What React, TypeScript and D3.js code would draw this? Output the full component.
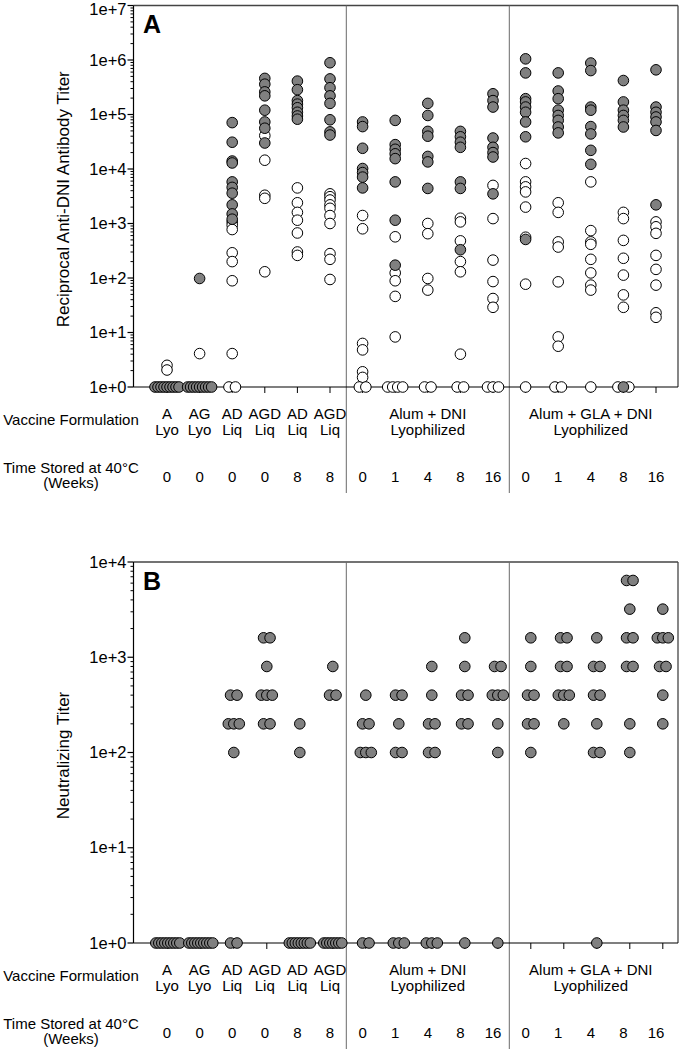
import React from "react";
import * as d3 from "d3";

// ---------------- Data ----------------
const formulationTop = ["A", "AG", "AD", "AGD", "AD", "AGD"];
const formulationBottom = ["Lyo", "Lyo", "Liq", "Liq", "Liq", "Liq"];
const lyoSets = ["Alum + DNI", "Alum + GLA + DNI"];
const lyoSetCenters = [8, 13];
const lyoSub = "Lyophilized";
const weeksStored = ["0", "0", "0", "0", "8", "8", "0", "1", "4", "8", "16", "0", "1", "4", "8", "16"];
const dividerPositions = [5.5, 10.5];

// Panel A: reciprocal anti-DNI antibody titer (filled = grey, open = white)
const antibodyFilled: number[][] = [
  [1, 1, 1, 1, 1, 1, 1, 1, 1],
  [98, 1, 1, 1, 1, 1, 1, 1, 1, 1],
  [71000, 31000, 14000, 12900, 5800, 4600, 3600, 2200, 1500, 1200],
  [460000, 360000, 260000, 220000, 120000, 73000, 56000, 30000],
  [410000, 285000, 180000, 155000, 133000, 110000, 94000, 82000],
  [890000, 450000, 310000, 220000, 160000, 80000, 48000, 42000],
  [73000, 60000, 24000, 10200, 8600, 7100, 4500],
  [78000, 28000, 23000, 19000, 15500, 5800, 1150, 172],
  [160000, 96000, 49000, 40000, 17000, 13500, 4400],
  [49000, 39000, 31000, 25000, 5800, 4400, 330],
  [240000, 180000, 137000, 37000, 25000, 20000, 16600, 3500],
  [1050000, 580000, 195000, 170000, 137000, 110000, 73000, 39000, 510],
  [580000, 270000, 195000, 120000, 96000, 78000, 59000, 46000],
  [880000, 640000, 137000, 120000, 60000, 44000, 22000, 12200],
  [420000, 170000, 120000, 96000, 78000, 59000, 1],
  [660000, 137000, 110000, 90000, 73000, 51000, 2200],
];
const antibodyOpen: number[][] = [
  [2.5, 2.05],
  [4.1],
  [1070, 930, 775, 290, 200, 89, 4.1, 1, 1],
  [41000, 14500, 3300, 2900, 130],
  [4500, 2400, 1600, 1150, 670, 300, 260],
  [3500, 3100, 2700, 2200, 1900, 1400, 1000, 280, 220, 94],
  [1400, 800, 6.3, 4.8, 1.9, 1.5, 1, 1],
  [570, 124, 89, 46, 8.3, 1, 1, 1, 1],
  [1000, 650, 98, 60, 1, 1],
  [1250, 1070, 480, 200, 130, 4.0, 1, 1],
  [5000, 1230, 213, 86, 42, 29, 1, 1, 1],
  [12600, 5800, 4700, 3800, 2000, 560, 77, 1],
  [2400, 1600, 460, 370, 85, 8.3, 5.6, 1, 1],
  [5800, 740, 460, 415, 220, 124, 74, 60, 1],
  [1600, 1230, 490, 230, 113, 49, 29, 1, 1],
  [1070, 870, 660, 260, 144, 74, 23, 19],
];

// Panel B: neutralizing titer (all filled)
const neutralizing: number[][] = [
  [1, 1, 1, 1, 1, 1, 1, 1, 1],
  [1, 1, 1, 1, 1, 1, 1, 1, 1],
  [400, 400, 200, 200, 200, 100, 1, 1],
  [1600, 1600, 800, 400, 400, 400, 200, 200],
  [200, 100, 1, 1, 1, 1, 1, 1, 1, 1],
  [800, 400, 400, 1, 1, 1, 1, 1, 1, 1],
  [400, 200, 200, 100, 100, 100, 1, 1],
  [400, 400, 200, 100, 100, 1, 1, 1],
  [800, 400, 200, 200, 100, 100, 1, 1, 1],
  [1600, 800, 400, 400, 200, 200, 1],
  [800, 800, 400, 400, 400, 200, 100, 1],
  [1600, 800, 400, 400, 200, 200, 100],
  [1600, 1600, 800, 800, 400, 400, 400, 200],
  [1600, 800, 800, 400, 400, 200, 100, 100, 1],
  [6400, 6400, 3200, 1600, 1600, 800, 800, 200, 100],
  [3200, 1600, 1600, 1600, 800, 800, 400, 200],
];

// ---------------- Layout ----------------
const FONT = "'Liberation Sans', Arial, Helvetica, sans-serif";
const LEFT = 133.5;
const RIGHT = 678;
const GREY = "#808080";

type Pt = { v: number; filled: boolean; g: number; dx: number };

function spread(groupIndex: number, filled: number[], open: number[]): Pt[] {
  const byValue = new Map<number, { f: number; o: number }>();
  for (const v of open) {
    const e = byValue.get(v) || { f: 0, o: 0 };
    e.o++;
    byValue.set(v, e);
  }
  for (const v of filled) {
    const e = byValue.get(v) || { f: 0, o: 0 };
    e.f++;
    byValue.set(v, e);
  }
  const out: Pt[] = [];
  byValue.forEach((e, v) => {
    const k = e.f + e.o;
    const step = k === 1 ? 0 : k === 2 ? 6.5 : k === 3 ? 5.5 : k === 4 ? 5 : 3;
    const leftOpen = Math.floor(e.o / 2);
    const order: boolean[] = [];
    for (let i = 0; i < leftOpen; i++) order.push(false);
    for (let i = 0; i < e.f; i++) order.push(true);
    for (let i = 0; i < e.o - leftOpen; i++) order.push(false);
    order.forEach((isFilled, j) => {
      out.push({ v, filled: isFilled, g: groupIndex, dx: (j - (k - 1) / 2) * step });
    });
  });
  return out;
}

type PanelProps = {
  letter: string;
  yTop: number;
  yBot: number;
  maxExp: number;
  xPts: d3.ScaleLinear<number, number>;
  xLab: d3.ScaleLinear<number, number>;
  filled: number[][];
  open: number[][];
  title: string;
};

function Panel({ letter, yTop, yBot, maxExp, xPts, xLab, filled, open, title }: PanelProps) {
  const y = d3.scaleLog().domain([1, Math.pow(10, maxExp)]).range([yBot, yTop]);
  const majors = d3.range(0, maxExp + 1);
  const minors: number[] = [];
  for (let k = 0; k < maxExp; k++) for (let m = 2; m <= 9; m++) minors.push(m * Math.pow(10, k));

  const pts: Pt[] = [];
  filled.forEach((f, i) => pts.push(...spread(i, f, open[i] || [])));
  const openPts = pts.filter((p) => !p.filled);
  const filledPts = pts.filter((p) => p.filled);

  const labelTop = yBot + 31.5;
  const labelBot = yBot + 48;

  return (
    <g>
      {/* frame */}
      <line x1={LEFT} x2={RIGHT} y1={yTop} y2={yTop} stroke="#444" strokeWidth={1.3} />
      <line x1={RIGHT} x2={RIGHT} y1={yTop} y2={yBot} stroke="#444" strokeWidth={1.3} />
      {dividerPositions.map((d) => (
        <line key={d} x1={xLab(d)} x2={xLab(d)} y1={yTop} y2={yBot + 106} stroke="#6a6a6a" strokeWidth={1} />
      ))}
      {/* left axis */}
      <line x1={LEFT} x2={LEFT} y1={yTop} y2={yBot} stroke="#000" strokeWidth={1.2} />
      {minors.map((m) => (
        <line key={"mi" + m} x1={LEFT - 3} x2={LEFT} y1={y(m)} y2={y(m)} stroke="#000" strokeWidth={1} />
      ))}
      {majors.map((k) => (
        <g key={"ma" + k}>
          <line x1={LEFT - 6} x2={LEFT} y1={y(Math.pow(10, k))} y2={y(Math.pow(10, k))} stroke="#000" strokeWidth={1.2} />
          <text x={LEFT - 7} y={Math.max(y(Math.pow(10, k)) + 5.6, 14.5)} textAnchor="end" fontSize={16.5}>
            {"1e+" + k}
          </text>
        </g>
      ))}
      {/* bottom axis */}
      <line x1={LEFT} x2={RIGHT} y1={yBot} y2={yBot} stroke="#000" strokeWidth={1.2} />
      {weeksStored.map((_, i) => (
        <line key={"bt" + i} x1={xPts(i)} x2={xPts(i)} y1={yBot} y2={yBot + 6} stroke="#000" strokeWidth={1} />
      ))}
      {/* points */}
      {openPts.map((p, i) => (
        <circle key={"o" + i} cx={xPts(p.g) + p.dx} cy={y(p.v)} r={5.3} fill="#fff" stroke="#000" strokeWidth={1} />
      ))}
      {filledPts.map((p, i) => (
        <circle key={"f" + i} cx={xPts(p.g) + p.dx} cy={y(p.v)} r={5.3} fill={GREY} stroke="#000" strokeWidth={1} />
      ))}
      {/* panel letter */}
      <text x={143} y={yTop + 27.5} fontSize={25} fontWeight="bold">
        {letter}
      </text>
      {/* y title */}
      <text transform={`translate(69,${(yTop + yBot) / 2 + 3}) rotate(-90)`} textAnchor="middle" fontSize={17}>
        {title}
      </text>
      {/* formulation labels */}
      <text x={71} y={yBot + 37.5} textAnchor="middle" fontSize={15}>
        Vaccine Formulation
      </text>
      {formulationTop.map((t, i) => (
        <g key={"fl" + i}>
          <text x={xLab(i)} y={labelTop} textAnchor="middle" fontSize={15}>
            {t}
          </text>
          <text x={xLab(i)} y={labelBot} textAnchor="middle" fontSize={15}>
            {formulationBottom[i]}
          </text>
        </g>
      ))}
      {lyoSets.map((t, i) => (
        <g key={"ly" + i}>
          <text x={xLab(lyoSetCenters[i])} y={labelTop} textAnchor="middle" fontSize={15}>
            {t}
          </text>
          <text x={xLab(lyoSetCenters[i])} y={labelBot} textAnchor="middle" fontSize={15}>
            {lyoSub}
          </text>
        </g>
      ))}
      <text x={71} y={yBot + 85.5} textAnchor="middle" fontSize={15}>
        Time Stored at 40°C
      </text>
      <text x={71} y={yBot + 101} textAnchor="middle" fontSize={15}>
        (Weeks)
      </text>
      {weeksStored.map((w, i) => (
        <text key={"w" + i} x={xLab(i)} y={yBot + 94.5} textAnchor="middle" fontSize={15}>
          {w}
        </text>
      ))}
    </g>
  );
}

export default function App() {
  const xA = d3.scaleLinear().domain([0, 15]).range([167, 656]);
  const xB = d3.scaleLinear().domain([0, 15]).range([167.8, 662.8]);
  const emptyOpen: number[][] = neutralizing.map(() => []);
  return (
    <svg
      width={680}
      height={1050}
      style={{ position: "absolute", left: 0, top: 0, display: "block" }}
      fontFamily={FONT}
    >
      <rect x={0} y={0} width={680} height={1050} fill="#fff" />
      <Panel
        letter="A"
        yTop={5.5}
        yBot={387}
        maxExp={7}
        xPts={xA}
        xLab={xA}
        filled={antibodyFilled}
        open={antibodyOpen}
        title="Reciprocal Anti-DNI Antibody Titer"
      />
      <Panel
        letter="B"
        yTop={562}
        yBot={943}
        maxExp={4}
        xPts={xB}
        xLab={xA}
        filled={neutralizing}
        open={emptyOpen}
        title="Neutralizing Titer"
      />
    </svg>
  );
}
